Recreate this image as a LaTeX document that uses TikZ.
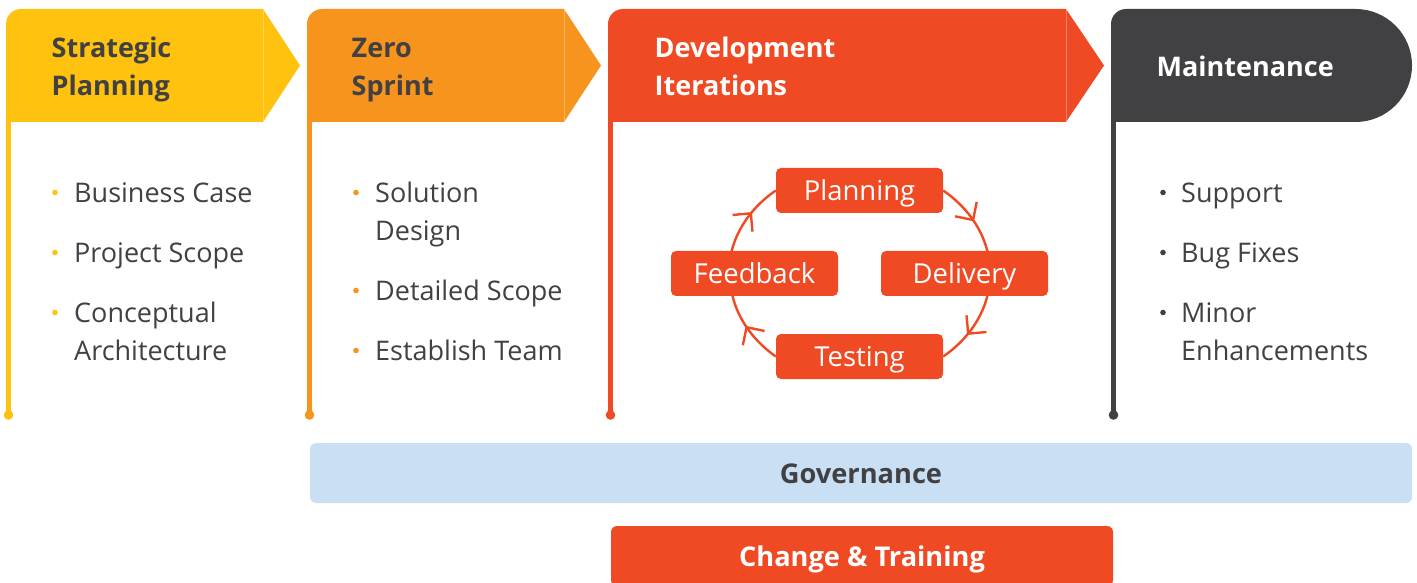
\documentclass[tikz,border=0pt]{standalone}
\usepackage{fontspec}
\setmainfont{Open Sans}
\usetikzlibrary{arrows.meta,decorations.markings,backgrounds}
\definecolor{cyel}{HTML}{FFC20E}
\definecolor{corg}{HTML}{F7941D}
\definecolor{cred}{HTML}{EF4A24}
\definecolor{cdark}{HTML}{414042}
\definecolor{cgov}{HTML}{C9DFF3}
\begin{document}
\begin{tikzpicture}[x=1pt,y=1pt,
  hdr/.style={font=\fontsize{27}{38}\selectfont\bfseries, anchor=base west, inner sep=0pt},
  itm/.style={font=\fontsize{27}{38}\selectfont, anchor=base west, inner sep=0pt, text=cdark},
  stage/.style={line width=5pt},
  cycbox/.style={fill=cred, rounded corners=5pt, minimum width=167pt, minimum height=45pt, inner sep=0pt, text=white, font=\fontsize{27.5}{30}\selectfont, text height=20pt, text depth=0pt},
  bar/.style={rounded corners=6pt, minimum height=60pt, inner sep=0pt, font=\fontsize{27.2}{30}\selectfont\bfseries, text height=20pt, text depth=0pt},
  seam/.style={draw=white, draw opacity=0.3, line width=1pt},
  flow/.style={draw=cred, line width=2.4pt, postaction={decorate}, decoration={markings, mark=at position #1 with {\arrow{Straight Barb[length=13pt,width=26pt]}}}},
  flowrev/.style={draw=cred, line width=2.4pt, postaction={decorate}, decoration={markings, mark=at position #1 with {\arrowreversed{Straight Barb[length=13pt,width=26pt]}}}}
]
\useasboundingbox (0,0) rectangle (1417,582);

% header shapes
\fill[cyel] (6,460) -- (6,558) arc[start angle=180,end angle=90,radius=15] -- (263,573) -- (300,516.5) -- (263,460) -- cycle;
\draw[seam] (263,573) -- (263,460);
\fill[corg] (307,460) -- (307,558) arc[start angle=180,end angle=90,radius=15] -- (564,573) -- (601,516.5) -- (564,460) -- cycle;
\draw[seam] (564,573) -- (564,460);
\fill[cred] (608,460) -- (608,558) arc[start angle=180,end angle=90,radius=15] -- (1066,573) -- (1104,516.5) -- (1066,460) -- cycle;
\draw[seam] (1066,573) -- (1066,460);
\fill[cdark] (1111,460) -- (1111,558) arc[start angle=180,end angle=90,radius=15] -- (1355.5,573) arc[start angle=90,end angle=-90,radius=56.5] -- cycle;

% stage lines
\draw[stage,cyel] (8.5,461) -- (8.5,168);
\fill[cyel] (8.5,167) circle (4.8);
\draw[stage,corg] (309.5,461) -- (309.5,168);
\fill[corg] (309.5,167) circle (4.8);
\draw[stage,cred] (610.5,461) -- (610.5,168);
\fill[cred] (610.5,167) circle (4.8);
\draw[stage,cdark] (1113.5,461) -- (1113.5,168);
\fill[cdark] (1113.5,167) circle (4.8);

% header texts
\node[hdr,text=cdark] (h1a) at (51.5,524.5) {Strategic};
\node[hdr,text=cdark] (h1b) at (51.5,486.5) {Planning};
\node[hdr,text=cdark] (h2a) at (351.5,524.5) {Zero};
\node[hdr,text=cdark] (h2b) at (351.5,486.5) {Sprint};
\node[hdr,text=white] (h3a) at (654.5,524.5) {Development};
\node[hdr,text=white] (h3b) at (654.5,486.5) {Iterations};
\node[hdr,text=white] (h4a) at (1156.5,505.5) {Maintenance};

% column 1
\fill[cyel] (55,389.5) circle (2.8);
\fill[cyel] (55,329.5) circle (2.8);
\fill[cyel] (55,269.5) circle (2.8);
\node[itm] (c1a) at (74,379) {Business Case};
\node[itm] (c1b) at (74,319) {Project Scope};
\node[itm] (c1c) at (74,259) {Conceptual};
\node[itm] (c1d) at (74,221.5) {Architecture};

% column 2
\fill[corg] (356,389.5) circle (2.8);
\fill[corg] (356,291.5) circle (2.8);
\fill[corg] (356,231.5) circle (2.8);
\node[itm] (c2a) at (375,379) {Solution};
\node[itm] (c2b) at (375,341) {Design};
\node[itm] (c2c) at (375,281) {Detailed Scope};
\node[itm] (c2d) at (375,221.5) {Establish Team};

% column 4
\fill[cdark] (1163,389.5) circle (2.8);
\fill[cdark] (1163,329.5) circle (2.8);
\fill[cdark] (1163,269.5) circle (2.8);
\node[itm] (c4a) at (1181,379) {Support};
\node[itm] (c4b) at (1181,319) {Bug Fixes};
\node[itm] (c4c) at (1181,259) {Minor};
\node[itm] (c4d) at (1181,221.5) {Enhancements};

% cycle
\node[cycbox] (planning) at (859.5,391.5) {Planning};
\node[cycbox] (delivery) at (964.5,308.5) {Delivery};
\node[cycbox] (testing) at (859.5,225.5) {Testing};
\node[cycbox] (feedback) at (754.5,308.5) {Feedback};

\begin{pgfonlayer}{background}
\fill[white] (0,0) rectangle (1417,582);
\path[flow=0.49] (planning.east) arc[start angle=50.3, end angle=5, x radius=130, y radius=107.5];
\path[flowrev=0.36] (testing.east) arc[start angle=-50.3, end angle=-5, x radius=130, y radius=107.5];
\path[flow=0.49] (testing.west) arc[start angle=229.7, end angle=185, x radius=130, y radius=107.5];
\path[flowrev=0.36] (planning.west) arc[start angle=129.7, end angle=175, x radius=130, y radius=107.5];
\end{pgfonlayer}

% bars
\node[bar, fill=cgov, text=cdark, minimum width=1102pt] (gov) at (861,109) {Governance};
\node[bar, fill=cred, text=white, minimum width=502pt] (change) at (862,26) {Change \& Training};
\end{tikzpicture}
\end{document}
